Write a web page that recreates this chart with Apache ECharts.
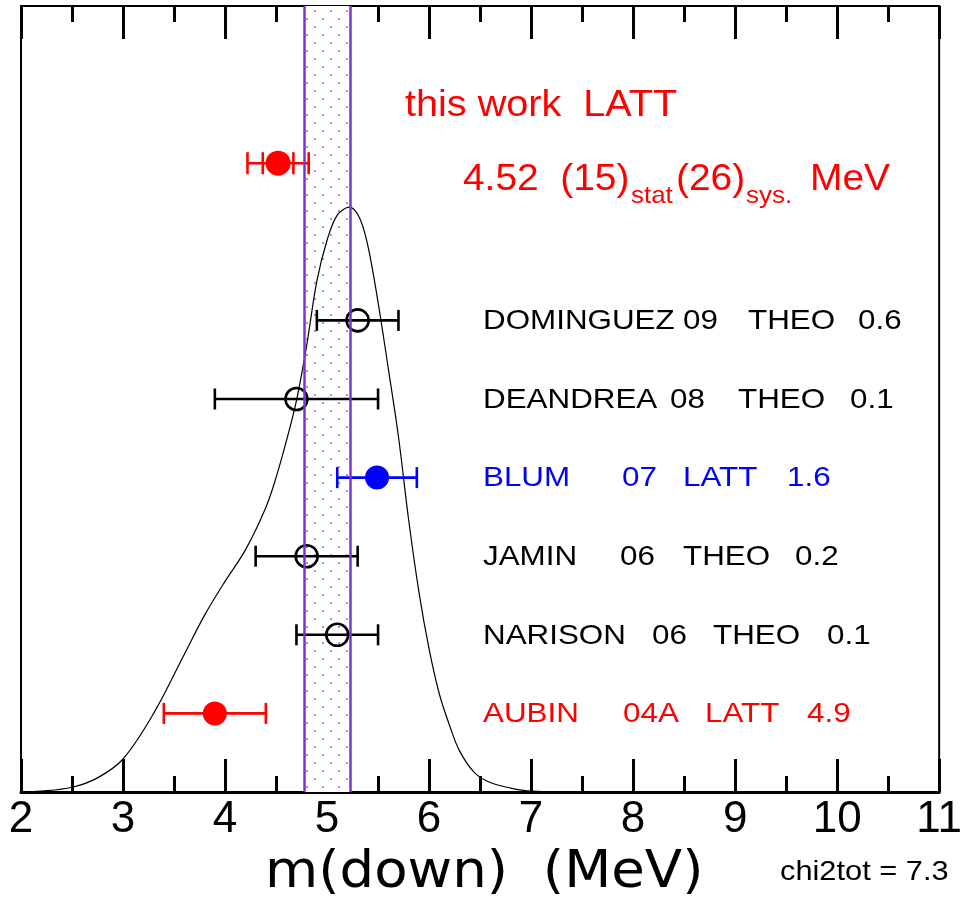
<!DOCTYPE html>
<html><head><meta charset="utf-8">
<script src="https://cdn.jsdelivr.net/npm/echarts@6/dist/echarts.min.js"></script>
<style>html,body{margin:0;padding:0;background:#fff}#c{width:965px;height:899px}</style>
</head><body><div id="c"></div>
<script>
// ---------------- data ----------------
const xMin = 2, xMax = 11;
const names  = ['DOMINGUEZ', 'DEANDREA', 'BLUM', 'JAMIN', 'NARISON', 'AUBIN'];
const years  = ['09', '08', '07', '06', '06', '04A'];
const kinds  = ['THEO', 'THEO', 'LATT', 'THEO', 'THEO', 'LATT'];
const chi2   = ['0.6', '0.1', '1.6', '0.2', '0.1', '4.9'];
const values = [5.3, 4.7, 5.49, 4.8, 5.1, 3.9];
const errors = [0.40, 0.80, 0.39, 0.50, 0.40, 0.50];
const rows   = [6, 5, 4, 3, 2, 1];

const thisValue = 4.52, thisStat = 0.15, thisTotal = 0.30, thisRow = 8;
const bandLow = 4.78, bandHigh = 5.23;

const curveX = [2.0, 2.2, 2.5, 2.75, 3.0, 3.3, 3.6, 3.8, 4.0, 4.2, 4.4, 4.5, 4.6, 4.7, 4.8, 4.9, 5.0, 5.1, 5.22, 5.32, 5.4, 5.5, 5.6, 5.7, 5.8, 5.9, 6.0, 6.1, 6.2, 6.3, 6.45, 6.6, 6.8, 7.0, 7.3];
const curveY = [0.0, 0.01, 0.06, 0.18, 0.42, 1.0, 1.75, 2.25, 2.68, 3.08, 3.62, 4.0, 4.46, 4.98, 5.68, 6.5, 7.02, 7.34, 7.44, 7.3, 6.95, 6.23, 5.39, 4.52, 3.46, 2.55, 1.82, 1.25, 0.85, 0.52, 0.24, 0.12, 0.05, 0.01, 0.0];

const chiText = 'chi2tot = 7.3';
const axisTitle = 'm(down)  (MeV)';

// ---------------- styles ----------------
const rowColors = ['#000', '#000', '#0000ff', '#000', '#000', '#ff0000'];
const bandColor = '#7a35d0';
const tokenX = [
  [483, 683, 748, 858],
  [483, 670, 738, 850],
  [483, 622, 683, 787],
  [483, 620, 683, 795],
  [483, 652, 713, 827],
  [483, 623, 705, 807]
];

const pat = document.createElement('canvas');
pat.width = 16; pat.height = 16;
const g = pat.getContext('2d');
g.fillStyle = '#ffffff'; g.fillRect(0, 0, 16, 16);
g.fillStyle = '#b489e6';
g.fillRect(2, 2, 2, 2); g.fillRect(10, 10, 2, 2);

const chart = echarts.init(document.getElementById('c'), null, { renderer: 'canvas' });

const curveData = curveX.map((x, i) => [x, curveY[i]]);
const barData = values.map((v, i) => [v, rows[i], v - errors[i], v + errors[i]]);
const markerData = values.map((v, i) => {
  const filled = kinds[i] === 'LATT';
  return {
    value: [v, rows[i]],
    symbolSize: filled ? 24 : 22,
    itemStyle: filled ? { color: rowColors[i], borderWidth: 0, opacity: 1 }
                      : { color: 'rgba(0,0,0,0)', borderColor: rowColors[i], borderWidth: 2.6, opacity: 1 }
  };
});

function capLine(px, py, half, color) {
  return { type: 'line', shape: { x1: px, y1: py - half, x2: px, y2: py + half },
           style: { stroke: color, lineWidth: 2.6 } };
}

const tickCommon = {
  axisTick: { show: true, inside: true, length: 33, lineStyle: { color: '#000', width: 3 } },
  minorTick: { show: true, splitNumber: 2, length: 16, lineStyle: { color: '#000', width: 3 } },
  splitLine: { show: false },
  minorSplitLine: { show: false }
};

chart.setOption({
  animation: false,
  backgroundColor: '#fff',
  grid: { left: 21, right: 23, top: 6, bottom: 107, show: true, borderColor: '#000', borderWidth: 2, backgroundColor: 'transparent' },
  xAxis: [
    Object.assign({
      type: 'value', min: xMin, max: xMax, interval: 1, position: 'bottom',
      axisLine: { show: true, lineStyle: { color: '#000', width: 3 } },
      axisLabel: { show: true, color: '#000', fontSize: 44, fontFamily: 'Liberation Sans', margin: 6,
                   showMinLabel: true, showMaxLabel: true, hideOverlap: false }
    }, tickCommon),
    Object.assign({
      type: 'value', min: xMin, max: xMax, interval: 1, position: 'top',
      axisLine: { show: true, lineStyle: { color: '#000', width: 2 } },
      axisLabel: { show: false }
    }, tickCommon)
  ],
  yAxis: { type: 'value', min: 0, max: 10, show: false },
  series: [
    {
      type: 'line', data: [], silent: true, z: 1,
      markArea: { silent: true, itemStyle: { color: { image: pat, repeat: 'repeat' }, opacity: 1 },
                  data: [[{ xAxis: bandLow }, { xAxis: bandHigh }]] },
      markLine: { silent: true, symbol: 'none', label: { show: false },
                  lineStyle: { color: bandColor, width: 2.5, type: 'solid', opacity: 1 },
                  data: [{ xAxis: bandLow }, { xAxis: bandHigh }] }
    },
    {
      type: 'line', data: curveData, showSymbol: false, smooth: 0.35, silent: true, z: 2,
      lineStyle: { color: '#000', width: 1.2 }
    },
    {
      type: 'custom', z: 3, silent: true,
      data: barData,
      renderItem(params, api) {
        const y = api.value(1);
        const pl = api.coord([api.value(2), y]);
        const ph = api.coord([api.value(3), y]);
        const color = rowColors[params.dataIndex];
        return { type: 'group', children: [
          { type: 'line', shape: { x1: pl[0], y1: pl[1], x2: ph[0], y2: ph[1] }, style: { stroke: color, lineWidth: 2.6 } },
          capLine(pl[0], pl[1], 10.5, color),
          capLine(ph[0], ph[1], 10.5, color)
        ]};
      }
    },
    {
      type: 'custom', z: 3, silent: true,
      data: [[thisValue, thisRow, thisStat, thisTotal]],
      renderItem(params, api) {
        const x = api.value(0), y = api.value(1), s = api.value(2), t = api.value(3);
        const pl = api.coord([x - t, y]), ph = api.coord([x + t, y]);
        const sl = api.coord([x - s, y]), sh = api.coord([x + s, y]);
        const c = '#ff0000';
        return { type: 'group', children: [
          { type: 'line', shape: { x1: pl[0], y1: pl[1], x2: ph[0], y2: ph[1] }, style: { stroke: c, lineWidth: 2.6 } },
          capLine(pl[0], pl[1], 11, c), capLine(ph[0], ph[1], 11, c),
          capLine(sl[0], sl[1], 11, c), capLine(sh[0], sh[1], 11, c)
        ]};
      }
    },
    {
      type: 'scatter', z: 4, silent: true, symbol: 'circle',
      itemStyle: { opacity: 1 },
      data: markerData.concat([{ value: [thisValue, thisRow], symbolSize: 25, itemStyle: { color: '#ff0000', opacity: 1 } }])
    }
  ]
});

// ---------------- text annotations ----------------
const F = '"Liberation Sans", Arial, sans-serif';
function txt(text, x, y, size, color, sx) {
  return { type: 'text', x: x, y: y, scaleX: sx || 1, silent: true, z: 10,
    style: { text: text, fill: color, font: size + 'px ' + F, textAlign: 'left', textVerticalAlign: 'middle', align: 'left', verticalAlign: 'middle' } };
}
const els = [];
names.forEach((n, i) => {
  const py = chart.convertToPixel({ gridIndex: 0 }, [xMin, rows[i]])[1] + 1;
  const toks = [n, years[i], kinds[i], chi2[i]];
  toks.forEach((t, k) => els.push(txt(t, tokenX[i][k], py, 28, rowColors[i], 1.12)));
});
els.push(txt('this work  LATT', 405, 106, 36, '#ff0000', 1.1));
els.push(txt('4.52  (15)', 463, 180, 36, '#ff0000', 1.08));
els.push(txt('stat', 631, 196, 24, '#ff0000', 1.08));
els.push(txt('(26)', 676, 180, 36, '#ff0000', 1.08));
els.push(txt('sys.', 746, 196, 24, '#ff0000', 1.08));
els.push(txt('MeV', 810, 180, 36, '#ff0000', 1.08));
els.push({ type: 'text', x: 265, y: 873, scaleX: 1.05, silent: true,
  style: { text: axisTitle, fill: '#000', font: '52px "DejaVu Sans", sans-serif', textVerticalAlign: 'middle', verticalAlign: 'middle' } });
els.push(txt(chiText, 780, 872, 28, '#000', 1.1));
chart.setOption({ graphic: { elements: els } });
</script>
</body></html>
